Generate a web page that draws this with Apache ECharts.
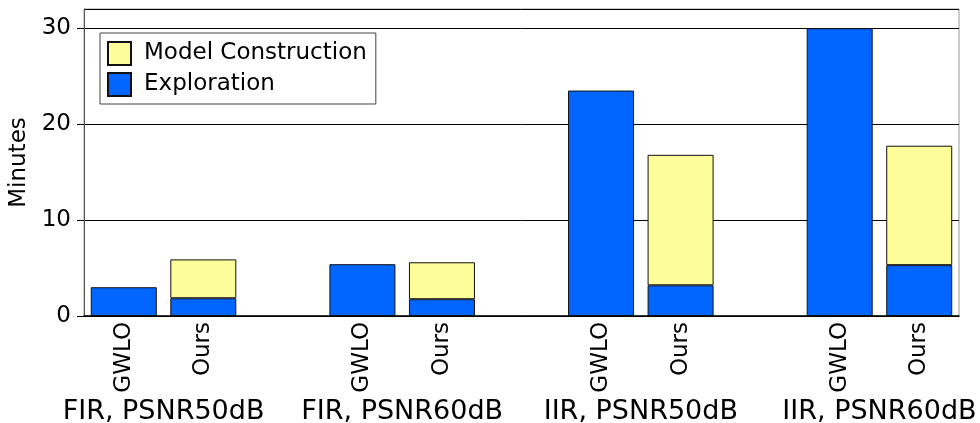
<!DOCTYPE html>
<html>
<head>
  <meta charset="utf-8">
  <title>Minutes per method</title>
  <style>
    html, body { margin: 0; padding: 0; background: #fff; }
    #main { width: 980px; height: 423px; }
  </style>
</head>
<body>
  <div id="main"></div>
  <script src="https://cdn.jsdelivr.net/npm/echarts@6/dist/echarts.min.js"></script>
  <script>
    // 11 slots: GWLO, Ours, gap, ... (gap slots empty)
    const slots = ['GWLO', 'Ours', '', 'GWLO', 'Ours', '', 'GWLO', 'Ours', '', 'GWLO', 'Ours'];
    const groups = ['FIR, PSNR50dB', 'FIR, PSNR60dB', 'IIR, PSNR50dB', 'IIR, PSNR60dB'];
    const groupPos = [1, 4, 7, 10];
    const exploration = [3.0, 1.85, '-', 5.4, 1.75, '-', 23.5, 3.2, '-', 30.0, 5.3];
    const modelConstruction = ['-', 4.05, '-', '-', 3.85, '-', '-', 13.6, '-', '-', 12.45];

    const font = 'DejaVu Sans';

    const option = {
      animation: false,
      textStyle: { fontFamily: font },
      grid: {
        left: 84, right: 21, top: 9, bottom: 107,
        outerBoundsMode: 'none',
        show: true, borderColor: '#999', borderWidth: 1
      },
      legend: {
        data: ['Model Construction', 'Exploration'],
        orient: 'vertical',
        left: 100, top: 33,
        icon: 'rect',
        itemWidth: 23, itemHeight: 23, itemGap: 6,
        padding: [8, 9, 7, 7],
        borderColor: '#444', borderWidth: 1, borderRadius: 0,
        backgroundColor: '#fff',
        textStyle: { fontFamily: font, fontSize: 23, color: '#000', padding: [0, 0, 0, 8] }
      },
      xAxis: [
        {
          type: 'category',
          data: slots,
          axisLine: { lineStyle: { color: '#000', width: 1.5 } },
          axisTick: { show: false },
          axisLabel: { rotate: 90, margin: 6, fontSize: 23, color: '#000', fontFamily: font, interval: 0 }
        },
        {
          type: 'value',
          min: 0, max: 11,
          position: 'bottom',
          axisLine: { show: false },
          axisTick: { show: false },
          splitLine: { show: false },
          axisLabel: {
            customValues: groupPos,
            formatter: v => groups[groupPos.indexOf(v)],
            margin: 82, fontSize: 27, color: '#000', fontFamily: font
          }
        }
      ],
      yAxis: {
        type: 'value',
        min: 0, max: 32, interval: 10,
        name: 'Minutes',
        nameLocation: 'middle',
        nameGap: 50,
        nameTextStyle: { fontSize: 23, color: '#000', fontFamily: font },
        axisLine: { show: true, lineStyle: { color: '#555', width: 1 } },
        axisTick: { show: true, inside: false, length: 7, lineStyle: { color: '#000' } },
        axisLabel: { fontSize: 23, color: '#000', margin: 13, fontFamily: font },
        splitLine: { show: true, lineStyle: { color: '#000', width: 1 } }
      },
      series: [
        {
          name: 'Exploration', type: 'bar', stack: 'time',
          data: exploration, barWidth: 66,
          itemStyle: { color: '#0066ff', borderColor: '#111', borderWidth: 1 }
        },
        {
          name: 'Model Construction', type: 'bar', stack: 'time',
          data: modelConstruction, barWidth: 66,
          itemStyle: { color: '#fdfd9a', borderColor: '#111', borderWidth: 1 }
        }
      ]
    };

    const chart = echarts.init(document.getElementById('main'));
    chart.setOption(option);
  </script>
</body>
</html>
